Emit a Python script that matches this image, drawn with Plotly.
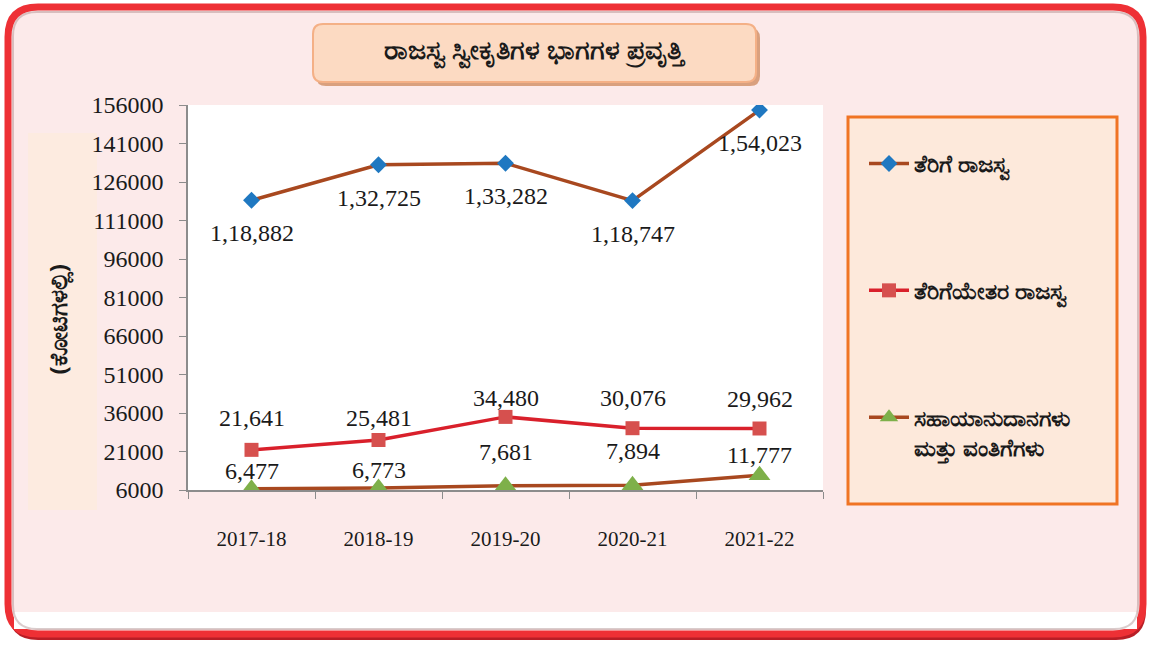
import plotly.graph_objects as go

# ---------------- data ----------------
years = ["2017-18", "2018-19", "2019-20", "2020-21", "2021-22"]
tax_revenue = [118882, 132725, 133282, 118747, 154023]
non_tax_revenue = [21641, 25481, 34480, 30076, 29962]
grants = [6477, 6773, 7681, 7894, 11777]
y_ticks = [6000, 21000, 36000, 51000, 66000, 81000, 96000, 111000, 126000, 141000, 156000]

title_text = "ರಾಜಸ್ವ ಸ್ವೀಕೃತಿಗಳ ಭಾಗಗಳ ಪ್ರವೃತ್ತಿ"
y_title = "(ಕೋಟಿಗಳಲ್ಲಿ)"
name_tax = "ತೆರಿಗೆ ರಾಜಸ್ವ"
name_nontax = "ತೆರಿಗೆಯೇತರ ರಾಜಸ್ವ"
name_grants = "ಸಹಾಯಾನುದಾನಗಳು<br>ಮತ್ತು ವಂತಿಗೆಗಳು"

# label vertical offsets (layout, px)
tax_shift = [-33, -33, -33, -33, -33]
nontax_shift = [32, 22, 19, 30, 30]
grants_shift = [18, 18, 34, 34, 20]

# ---------------- layout geometry ----------------
W, H = 1150, 645
L, R, T, B = 188, 327, 105, 155
PW, PH = W - L - R, H - T - B


def px(x):
    return (x - L) / PW


def py(y):
    return (H - B - y) / PH


def rr(x0, y0, x1, y1, r):
    pts = [
        ("M", (x0 + r, y0)), ("L", (x1 - r, y0)), ("Q", (x1, y0), (x1, y0 + r)),
        ("L", (x1, y1 - r)), ("Q", (x1, y1), (x1 - r, y1)),
        ("L", (x0 + r, y1)), ("Q", (x0, y1), (x0, y1 - r)),
        ("L", (x0, y0 + r)), ("Q", (x0, y0), (x0 + r, y0)),
    ]
    s = ""
    for p in pts:
        cmd = p[0]
        coords = " ".join(f"{px(a):.5f},{py(b):.5f}" for a, b in p[1:])
        s += f"{cmd} {coords} "
    return s + "Z"


def indian(n):
    s = str(n)
    if len(s) <= 3:
        return s
    head, tail = s[:-3], s[-3:]
    groups = []
    while len(head) > 2:
        groups.insert(0, head[-2:])
        head = head[:-2]
    if head:
        groups.insert(0, head)
    return ",".join(groups) + "," + tail


SERIF = "Liberation Serif, Times New Roman, serif"
KFONT = "Noto Sans, sans-serif"
BROWN = "#A8481F"

fig = go.Figure()
fig.add_trace(go.Scatter(
    x=years, y=tax_revenue, name=name_tax, mode="lines+markers",
    line=dict(color=BROWN, width=3.5),
    marker=dict(symbol="diamond", size=13, color="#1F78C1"),
    legendgroup="a",
))
fig.add_trace(go.Scatter(
    x=years, y=non_tax_revenue, name=name_nontax, mode="lines+markers",
    line=dict(color="#D9202B", width=3.5),
    marker=dict(symbol="square", size=14, color="#D6504E"),
    legendgroup="b",
))
fig.add_trace(go.Scatter(
    x=years, y=grants, name=name_grants, mode="lines+markers",
    line=dict(color=BROWN, width=3.5),
    marker=dict(symbol="triangle-up", size=19, color="#7EB04A"),
    legendgroup="c",
))

annotations = []
for series, shifts in ((tax_revenue, tax_shift), (non_tax_revenue, nontax_shift), (grants, grants_shift)):
    for x, v, s in zip(years, series, shifts):
        annotations.append(dict(
            x=x, y=v, xref="x", yref="y", text=indian(v), showarrow=False,
            yshift=s, font=dict(family=SERIF, size=24, color="#1a1a1a"),
        ))

annotations.append(dict(
    x=px(535), y=py(28), xref="paper", yref="paper", text=f"<b>{title_text}</b>",
    showarrow=False, font=dict(family=KFONT, size=27, color="#1a1a1a"),
))
annotations.append(dict(
    x=px(38), y=py(320), xref="paper", yref="paper", text=f"<b>{y_title}</b>",
    textangle=-90, showarrow=False, font=dict(family=KFONT, size=24, color="#1a1a1a"),
))

shapes = [
    # outer frame shadow + frame
    dict(type="path", path=rr(8, 12, 1146, 640, 30), xref="paper", yref="paper",
         fillcolor="#B81E26", line=dict(width=0), layer="below"),
    dict(type="path", path=rr(8, 7, 1143, 634, 30), xref="paper", yref="paper",
         fillcolor="#FCEAEA", line=dict(color="#EE3035", width=7), layer="below"),
    dict(type="rect", x0=px(14), x1=px(1137), y0=py(612), y1=py(629), xref="paper", yref="paper",
         fillcolor="#FFFFFF", line=dict(width=0), layer="below"),
    dict(type="path", path=rr(13, 12, 1138, 629, 24), xref="paper", yref="paper",
         fillcolor="rgba(0,0,0,0)", line=dict(color="rgba(150,110,110,0.35)", width=2), layer="below"),
    # y title strip
    dict(type="rect", x0=px(28), x1=px(97), y0=py(510), y1=py(133), xref="paper", yref="paper",
         fillcolor="#FDEBE0", line=dict(width=0), layer="below"),
    # plot area
    dict(type="rect", x0=0, x1=1, y0=0, y1=1, xref="paper", yref="paper",
         fillcolor="#FFFFFF", line=dict(width=0), layer="below"),
    # title box
    dict(type="path", path=rr(316, 28, 760, 86, 10), xref="paper", yref="paper",
         fillcolor="#D9A07E", line=dict(width=0), layer="below"),
    dict(type="path", path=rr(313, 24, 756, 82, 10), xref="paper", yref="paper",
         fillcolor="#FCDAC2", line=dict(color="#F4B086", width=2), layer="below"),
    # legend box
    dict(type="rect", x0=px(848), x1=px(1117), y0=py(504), y1=py(117), xref="paper", yref="paper",
         fillcolor="#FDE9DB", line=dict(color="#F07424", width=3), layer="below"),
]

fig.update_layout(
    width=W, height=H,
    margin=dict(l=L, r=R, t=T, b=B, autoexpand=False),
    paper_bgcolor="#FFFFFF",
    plot_bgcolor="rgba(0,0,0,0)",
    showlegend=True,
    legend=dict(
        x=px(864), y=py(142), xanchor="left", yanchor="top",
        bgcolor="rgba(0,0,0,0)", borderwidth=0,
        font=dict(family=KFONT, size=23, color="#1a1a1a", weight="bold"),
        tracegroupgap=94, traceorder="grouped", itemwidth=40, valign="top",
    ),
    xaxis=dict(
        type="category", range=[-0.5, 4.5], showgrid=False, zeroline=False,
        showline=True, linecolor="#8C8C8C", linewidth=1.5,
        ticks="outside", tickson="boundaries", ticklen=7, tickcolor="#8C8C8C",
        tickfont=dict(family=SERIF, size=21, color="#1a1a1a"),
        ticklabelstandoff=29,
    ),
    yaxis=dict(
        range=[6000, 156000], tickvals=y_ticks, tickformat="d", showgrid=False, zeroline=False,
        showline=True, linecolor="#8C8C8C", linewidth=1.5,
        ticks="outside", ticklen=7, tickcolor="#8C8C8C",
        tickfont=dict(family=SERIF, size=24, color="#1a1a1a"),
        ticklabelstandoff=11,
    ),
    shapes=shapes,
    annotations=annotations,
)

fig.write_html("out.html", config={"displayModeBar": False},
               post_script="document.body.style.margin='0';")
